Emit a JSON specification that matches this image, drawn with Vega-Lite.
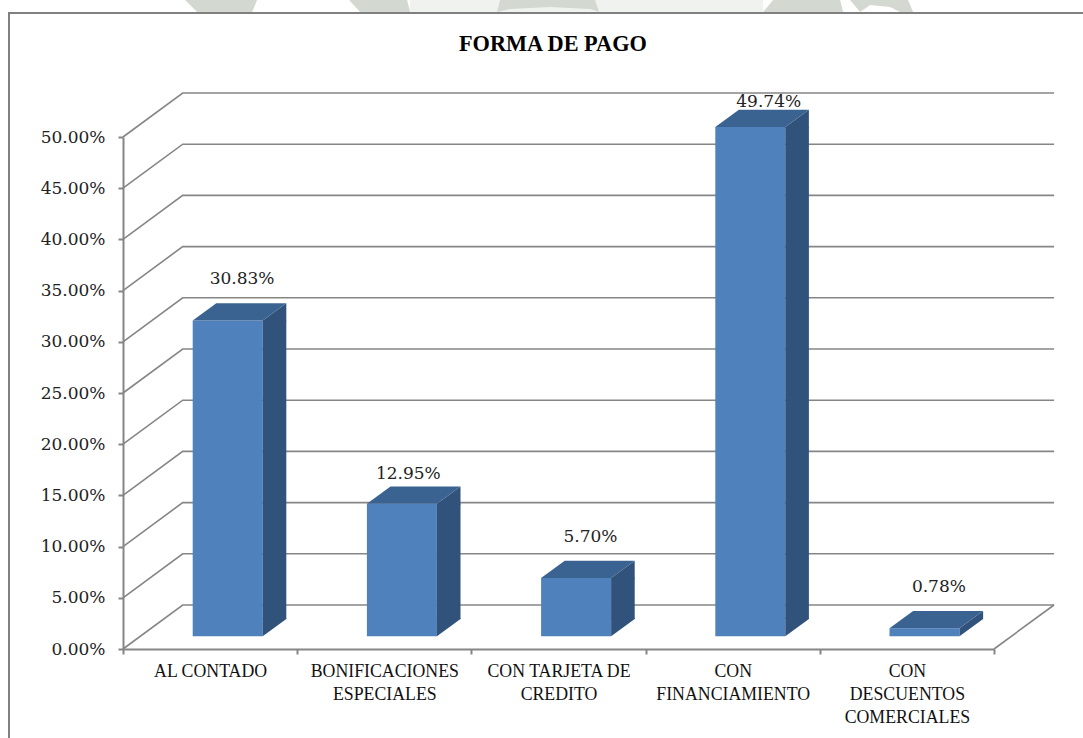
{
  "$schema": "https://vega.github.io/schema/vega-lite/v6.json",
  "autosize": {"type": "none"},
  "padding": {"left": 9, "top": 13, "right": -2, "bottom": -2},
  "width": 1076,
  "height": 727,
  "background": "white",
  "config": {
    "view": {"stroke": "#808080", "strokeWidth": 2, "fill": "white"},
    "font": "Liberation Serif"
  },
  "title": {
    "text": "FORMA DE PAGO",
    "anchor": "start",
    "frame": "group",
    "orient": "top",
    "offset": -55,
    "dx": 450,
    "font": "Liberation Serif",
    "fontSize": 22.3,
    "fontWeight": "bold",
    "color": "#000000"
  },
  "datasets": {
    "pagos": [
      {"forma": "AL CONTADO", "valor": 0.3083},
      {"forma": "BONIFICACIONES ESPECIALES", "valor": 0.1295},
      {"forma": "CON TARJETA DE CREDITO", "valor": 0.057},
      {"forma": "CON FINANCIAMIENTO", "valor": 0.4974},
      {"forma": "CON DESCUENTOS COMERCIALES", "valor": 0.0078}
    ],
    "marcas": [
      {"marca": 0}, {"marca": 0.05}, {"marca": 0.1}, {"marca": 0.15}, {"marca": 0.2}, {"marca": 0.25},
      {"marca": 0.3}, {"marca": 0.35}, {"marca": 0.4}, {"marca": 0.45}, {"marca": 0.5}
    ]
  },
  "encoding": {
    "x": {
      "field": "forma",
      "type": "nominal",
      "scale": {
        "type": "band",
        "domain": ["AL CONTADO", "BONIFICACIONES ESPECIALES", "CON TARJETA DE CREDITO", "CON FINANCIAMIENTO", "CON DESCUENTOS COMERCIALES"],
        "range": [114, 985],
        "paddingInner": 0,
        "paddingOuter": 0
      },
      "axis": {
        "title": null,
        "orient": "bottom",
        "offset": -91,
        "labelAngle": 0,
        "tickBand": "extent",
        "tickSize": 5,
        "tickWidth": 2,
        "tickColor": "#868686",
        "domainColor": "#868686",
        "domainWidth": 2,
        "labelFont": "Liberation Serif",
        "labelFontSize": 17.8,
        "labelColor": "#111111",
        "labelPadding": 8,
        "labelLineHeight": 23,
        "labelLimit": 0,
        "labelExpr": "datum.value == 'BONIFICACIONES ESPECIALES' ? ['BONIFICACIONES', 'ESPECIALES'] : datum.value == 'CON TARJETA DE CREDITO' ? ['CON TARJETA DE', 'CREDITO'] : datum.value == 'CON FINANCIAMIENTO' ? ['CON', 'FINANCIAMIENTO'] : datum.value == 'CON DESCUENTOS COMERCIALES' ? ['CON', 'DESCUENTOS', 'COMERCIALES'] : datum.value"
      }
    },
    "y": {
      "type": "quantitative",
      "scale": {"domain": [0, 0.5], "range": [636, 124], "nice": false, "zero": false}
    }
  },
  "layer": [
    {
      "description": "Pale band of the page emblem above the frame",
      "data": {"name": "marcas"},
      "transform": [{"filter": "datum.marca == 0.5"}],
      "mark": {"type": "point", "shape": "M200 -137 L200 -125 L553 -125 L553 -137 Z", "size": 4, "filled": true, "color": "#F0F2EF", "opacity": 1},
      "encoding": {"x": {"datum": "AL CONTADO"}, "y": {"field": "marca", "type": "quantitative"}}
    },
    {
      "description": "Darker pieces of the page emblem above the frame",
      "data": {"name": "marcas"},
      "transform": [{"filter": "datum.marca == 0.5"}],
      "mark": {"type": "point", "shape": "M-25 -137 L-13 -125 L42 -125 L47 -137 Z M139 -137 L150 -125 L200 -125 L197 -137 Z M290 -137 L287 -125 L300 -128 L340 -130 L380 -128 L389 -125 L385 -137 Z M553 -125 L563 -137 L630 -137 L633 -125 Z M640 -137 L650 -125 L660 -132 L680 -130 L690 -125 L703 -125 L698 -137 Z", "size": 4, "filled": true, "color": "#D3D8D0", "opacity": 1},
      "encoding": {"x": {"datum": "AL CONTADO"}, "y": {"field": "marca", "type": "quantitative"}}
    },
    {
      "description": "Side wall and back wall line for every tick",
      "data": {"name": "marcas"},
      "mark": {"type": "point", "shape": "M-87.1 0 L-27.4 -44 L844 -44", "size": 4, "filled": false, "stroke": "#868686", "strokeWidth": 1.6, "opacity": 1},
      "encoding": {
        "x": {"datum": "AL CONTADO"},
        "y": {
          "field": "marca",
          "type": "quantitative",
          "axis": {
            "title": null,
            "orient": "left",
            "offset": -114,
            "values": [0, 0.05, 0.1, 0.15, 0.2, 0.25, 0.3, 0.35, 0.4, 0.45, 0.5],
            "format": ".2%",
            "grid": false,
            "tickSize": 5,
            "tickWidth": 2,
            "tickColor": "#868686",
            "domainColor": "#868686",
            "domainWidth": 2,
            "labelFont": "DejaVu Serif",
            "labelFontSize": 17,
            "labelColor": "#222222",
            "labelPadding": 13
          }
        }
      }
    },
    {
      "description": "Right edge of the floor",
      "data": {"name": "marcas"},
      "transform": [{"filter": "datum.marca == 0"}],
      "mark": {"type": "point", "shape": "M87.1 0 L147.1 -44", "size": 4, "filled": false, "stroke": "#868686", "strokeWidth": 1.6, "opacity": 1},
      "encoding": {
        "x": {"datum": "CON DESCUENTOS COMERCIALES"},
        "y": {"field": "marca", "type": "quantitative"}
      }
    },
    {
      "description": "Front faces",
      "data": {"name": "pagos"},
      "mark": {"type": "bar", "size": 70, "xOffset": 17.6, "yOffset": -12.7, "y2Offset": -12.7, "color": "#4F81BD"},
      "encoding": {
        "y": {"field": "valor", "type": "quantitative"},
        "y2": {"datum": 0}
      }
    },
    {
      "description": "Side faces, straight part",
      "data": {"name": "pagos"},
      "transform": [{"filter": "datum.valor >= 0.017"}],
      "mark": {"type": "bar", "size": 23.6, "xOffset": 64.4, "yOffset": -12.7, "y2Offset": -30, "color": "#31527B"},
      "encoding": {
        "y": {"field": "valor", "type": "quantitative"},
        "y2": {"datum": 0}
      }
    },
    {
      "description": "Side faces, slanted upper end",
      "data": {"name": "pagos"},
      "transform": [{"filter": "datum.valor >= 0.017"}],
      "mark": {"type": "point", "shape": "M52.6 -12.7 L76.2 -30 L76.2 -11.7 L52.6 -11.7 Z", "size": 4, "filled": true, "color": "#31527B", "opacity": 1},
      "encoding": {"y": {"field": "valor", "type": "quantitative"}}
    },
    {
      "description": "Side faces, slanted lower end",
      "data": {"name": "pagos"},
      "transform": [{"filter": "datum.valor >= 0.017"}],
      "mark": {"type": "point", "shape": "M52.6 -12.7 L76.2 -30 L76.2 -31 L52.6 -31 Z", "size": 4, "filled": true, "color": "#31527B", "opacity": 1},
      "encoding": {"y": {"datum": 0}}
    },
    {
      "description": "Side face of the shallowest bar",
      "data": {"name": "pagos"},
      "transform": [{"filter": "datum.valor < 0.017"}],
      "mark": {"type": "point", "shape": "M52.6 -12.7 L76.2 -30 L76.2 -22 L52.6 -4.7 Z", "size": 4, "filled": true, "color": "#31527B", "opacity": 1},
      "encoding": {"y": {"field": "valor", "type": "quantitative"}}
    },
    {
      "description": "Top faces",
      "data": {"name": "pagos"},
      "mark": {"type": "point", "shape": "M-17.4 -12.7 L52.6 -12.7 L76.2 -30 L6.2 -30 Z", "size": 4, "filled": true, "color": "#3B6391", "opacity": 1},
      "encoding": {"y": {"field": "valor", "type": "quantitative"}}
    },
    {
      "description": "Value labels",
      "data": {"name": "pagos"},
      "transform": [{"filter": "datum.forma == 'AL CONTADO' || datum.forma == 'CON TARJETA DE CREDITO' || datum.forma == 'CON DESCUENTOS COMERCIALES'"}],
      "mark": {"type": "text", "dx": 32, "dy": -54, "font": "DejaVu Serif", "fontSize": 17, "color": "#222222"},
      "encoding": {
        "y": {"field": "valor", "type": "quantitative"},
        "text": {"field": "valor", "type": "quantitative", "format": ".2%"}
      }
    },
    {
      "data": {"name": "pagos"},
      "transform": [{"filter": "datum.forma == 'BONIFICACIONES ESPECIALES'"}],
      "mark": {"type": "text", "dx": 24, "dy": -42, "font": "DejaVu Serif", "fontSize": 17, "color": "#222222"},
      "encoding": {
        "y": {"field": "valor", "type": "quantitative"},
        "text": {"field": "valor", "type": "quantitative", "format": ".2%"}
      }
    },
    {
      "data": {"name": "pagos"},
      "transform": [{"filter": "datum.forma == 'CON FINANCIAMIENTO'"}],
      "mark": {"type": "text", "dx": 36, "dy": -38, "font": "DejaVu Serif", "fontSize": 17, "color": "#222222"},
      "encoding": {
        "y": {"field": "valor", "type": "quantitative"},
        "text": {"field": "valor", "type": "quantitative", "format": ".2%"}
      }
    }
  ]
}
